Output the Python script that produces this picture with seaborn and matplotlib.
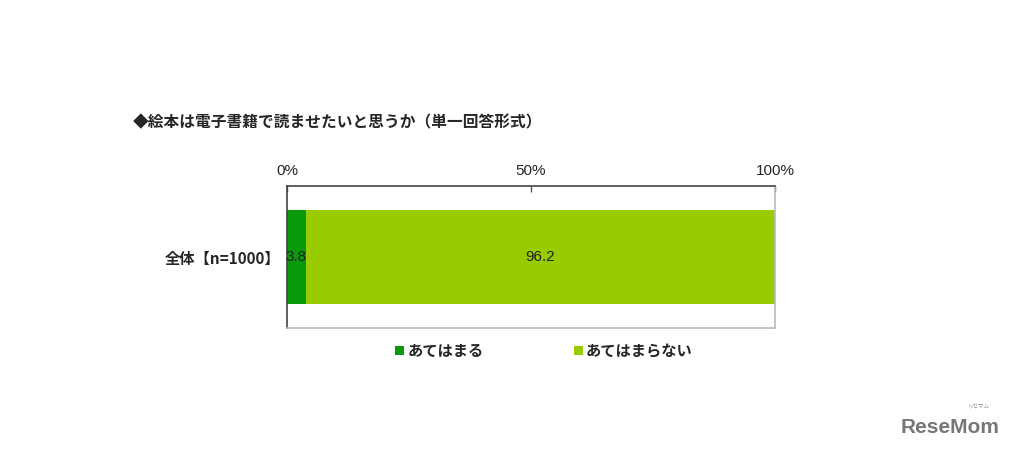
import matplotlib
matplotlib.use("Agg")
import matplotlib.pyplot as plt
import seaborn as sns
import pandas as pd
from matplotlib.patches import Patch

# データ
categories = ["全体【n=1000】"]
series_names = ["あてはまる", "あてはまらない"]
yes_values = [3.8]
no_values = [96.2]
colors = ["#0a990a", "#99cc00"]
tick_values = [0, 50, 100]
tick_labels = ["0%", "50%", "100%"]
title = "◆絵本は電子書籍で読ませたいと思うか（単一回答形式）"

sns.set_style("white")
plt.rcParams['font.family'] = ['Noto Sans CJK JP', 'DejaVu Sans']

df = pd.DataFrame({"cat": categories, "yes": yes_values, "no": no_values})
df["total"] = df["yes"] + df["no"]

fig = plt.figure(figsize=(10.15, 4.5), dpi=100)
ax = fig.add_axes([0.2828, 0.2711, 0.4808, 0.3156])

# 積み上げ棒（合計を後ろに、先頭系列を前に）
sns.barplot(data=df, x="total", y="cat", color=colors[1], width=0.655,
            saturation=1, ax=ax, orient="h", edgecolor="none", linewidth=0)
sns.barplot(data=df, x="yes", y="cat", color=colors[0], width=0.655,
            saturation=1, ax=ax, orient="h", edgecolor="none", linewidth=0)

# 値ラベル
for i, row in df.iterrows():
    ax.text(row["yes"] / 2, i, f"{row['yes']:.1f}", ha="center", va="center",
            fontsize=11, family=["Liberation Sans", "DejaVu Sans"], color="#222222")
    ax.text(row["yes"] + row["no"] / 2, i, f"{row['no']:.1f}", ha="center",
            va="center", fontsize=11, family=["Liberation Sans", "DejaVu Sans"],
            color="#222222")

ax.set_xlim(0, 100)
ax.set_ylim(0.5, -0.5)
ax.set_xticks(tick_values)
ax.set_xticklabels(tick_labels, fontsize=11, family=["Liberation Sans", "DejaVu Sans"])
ax.xaxis.tick_top()
ax.tick_params(axis="x", direction="in", length=4, width=1, color="#555555",
               pad=6, top=True)
ax.set_xlabel("")
ax.set_ylabel("")
ax.tick_params(axis="y", length=0, pad=5)
for lab in ax.get_yticklabels():
    lab.set_fontsize(11)
    lab.set_fontweight("bold")

for side in ["top", "left"]:
    ax.spines[side].set_color("#444444")
    ax.spines[side].set_linewidth(1.2)
for side in ["right", "bottom"]:
    ax.spines[side].set_color("#bbbbbb")
    ax.spines[side].set_linewidth(1.2)
    ax.spines[side].set_visible(True)

# 凡例
handles = [Patch(facecolor=c, edgecolor="none") for c in colors]
fig.legend(handles, series_names, loc="center", bbox_to_anchor=(0.536, 0.22),
           ncol=2, frameon=False, handlelength=0.6, handleheight=0.6,
           handletextpad=0.2, columnspacing=5.9, prop={"size": 11, "weight": "bold"})

fig.text(0.131, 0.728, title, fontsize=11.3, fontweight="bold", va="center")

# ロゴ
fig.text(0.985, 0.05, "ReseMom", fontsize=15, fontweight="bold", color="#777777",
         ha="right", va="center", family=["Liberation Sans", "DejaVu Sans"])
fig.text(0.975, 0.095, "リセマム", fontsize=4, color="#888888", ha="right", va="center")

fig.savefig("out.png", dpi=100, facecolor="white")
